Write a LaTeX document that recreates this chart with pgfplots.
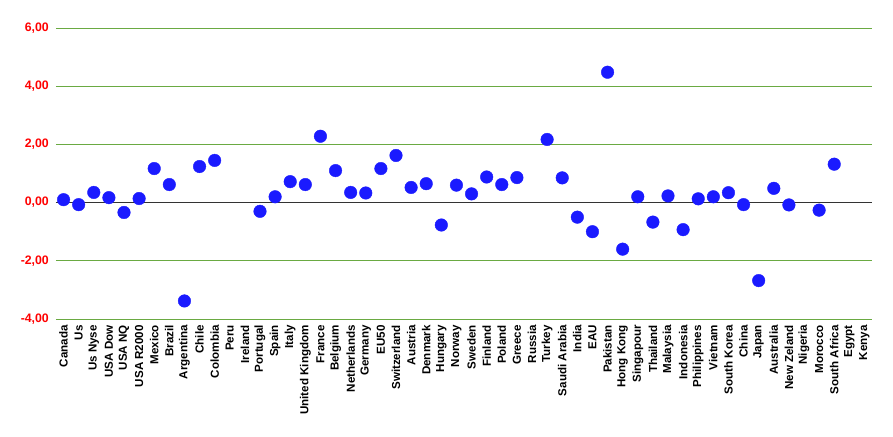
\documentclass[border=0pt]{standalone}
\usepackage{pgfplots}
\pgfplotsset{compat=1.18}
\usepackage{fontspec}
\setmainfont{Liberation Sans}
\definecolor{gridgreen}{RGB}{106,170,66}
\definecolor{dotblue}{RGB}{26,26,255}
\definecolor{ticksred}{RGB}{255,0,0}

\begin{document}
\begin{tikzpicture}
\useasboundingbox (-56pt,-117pt) rectangle (837pt,319pt);
\begin{axis}[
    scale only axis,
    width=816pt, height=291pt,
    xmin=-0.5, xmax=53.5,
    ymin=-4, ymax=6,
    axis line style={draw=none},
    ytick={-4,-2,...,6},
    ymajorgrids=true,
    grid style={gridgreen, line width=0.9pt},
    xtick={0,...,53},
    xticklabels={Canada,Us,Us Nyse,USA Dow,USA NQ,USA R2000,Mexico,Brazil,Argentina,Chile,Colombia,Peru,Ireland,Portugal,Spain,Italy,United Kingdom,France,Belgium,Netherlands,Germany,EU50,Switzerland,Austria,Denmark,Hungary,Norway,Sweden,Finland,Poland,Greece,Russia,Turkey,Saudi Arabia,India,EAU,Pakistan,Hong Kong,Singapour,Thailand,Malaysia,Indonesia,Philippines,Vietnam,South Korea,China,Japan,Australia,New Zeland,Nigeria,Morocco,South Africa,Egypt,Kenya},
    x tick label style={rotate=90, anchor=east, font=\fontsize{11.6}{13}\selectfont\bfseries, inner sep=0pt},
    xticklabel shift=6pt,
    y tick label style={font=\fontsize{12.3}{14}\selectfont\bfseries, text=ticksred, inner sep=0pt},
    yticklabel shift=7pt,
    yticklabel style={/pgf/number format/.cd, fixed, fixed zerofill, precision=2, use comma, assume math mode=true},
    major tick length=0pt,
    tick style={draw=none},
    clip=false,
]
\draw[black!80, line width=0.9pt] (axis cs:-0.5,0) -- (axis cs:53.5,0);
\addplot[only marks, mark=*, mark size=6.3pt, mark options={fill=dotblue, draw=dotblue}] coordinates {
(0,0.10) (1,-0.07) (2,0.35) (3,0.17) (4,-0.34) (5,0.14)
(6,1.17) (7,0.62) (8,-3.38) (9,1.24) (10,1.45)
(13,-0.30) (14,0.20) (15,0.72) (16,0.62) (17,2.28) (18,1.10)
(19,0.35) (20,0.33) (21,1.17) (22,1.62) (23,0.52) (24,0.65)
(25,-0.77) (26,0.60) (27,0.30) (28,0.88) (29,0.62) (30,0.86)
(32,2.17) (33,0.85) (34,-0.50) (35,-1.00) (36,4.48) (37,-1.60)
(38,0.20) (39,-0.67) (40,0.23) (41,-0.93) (42,0.13) (43,0.20)
(44,0.34) (45,-0.07) (46,-2.68) (47,0.49) (48,-0.08)
(50,-0.26) (51,1.32)
};
\end{axis}
\end{tikzpicture}
\end{document}
